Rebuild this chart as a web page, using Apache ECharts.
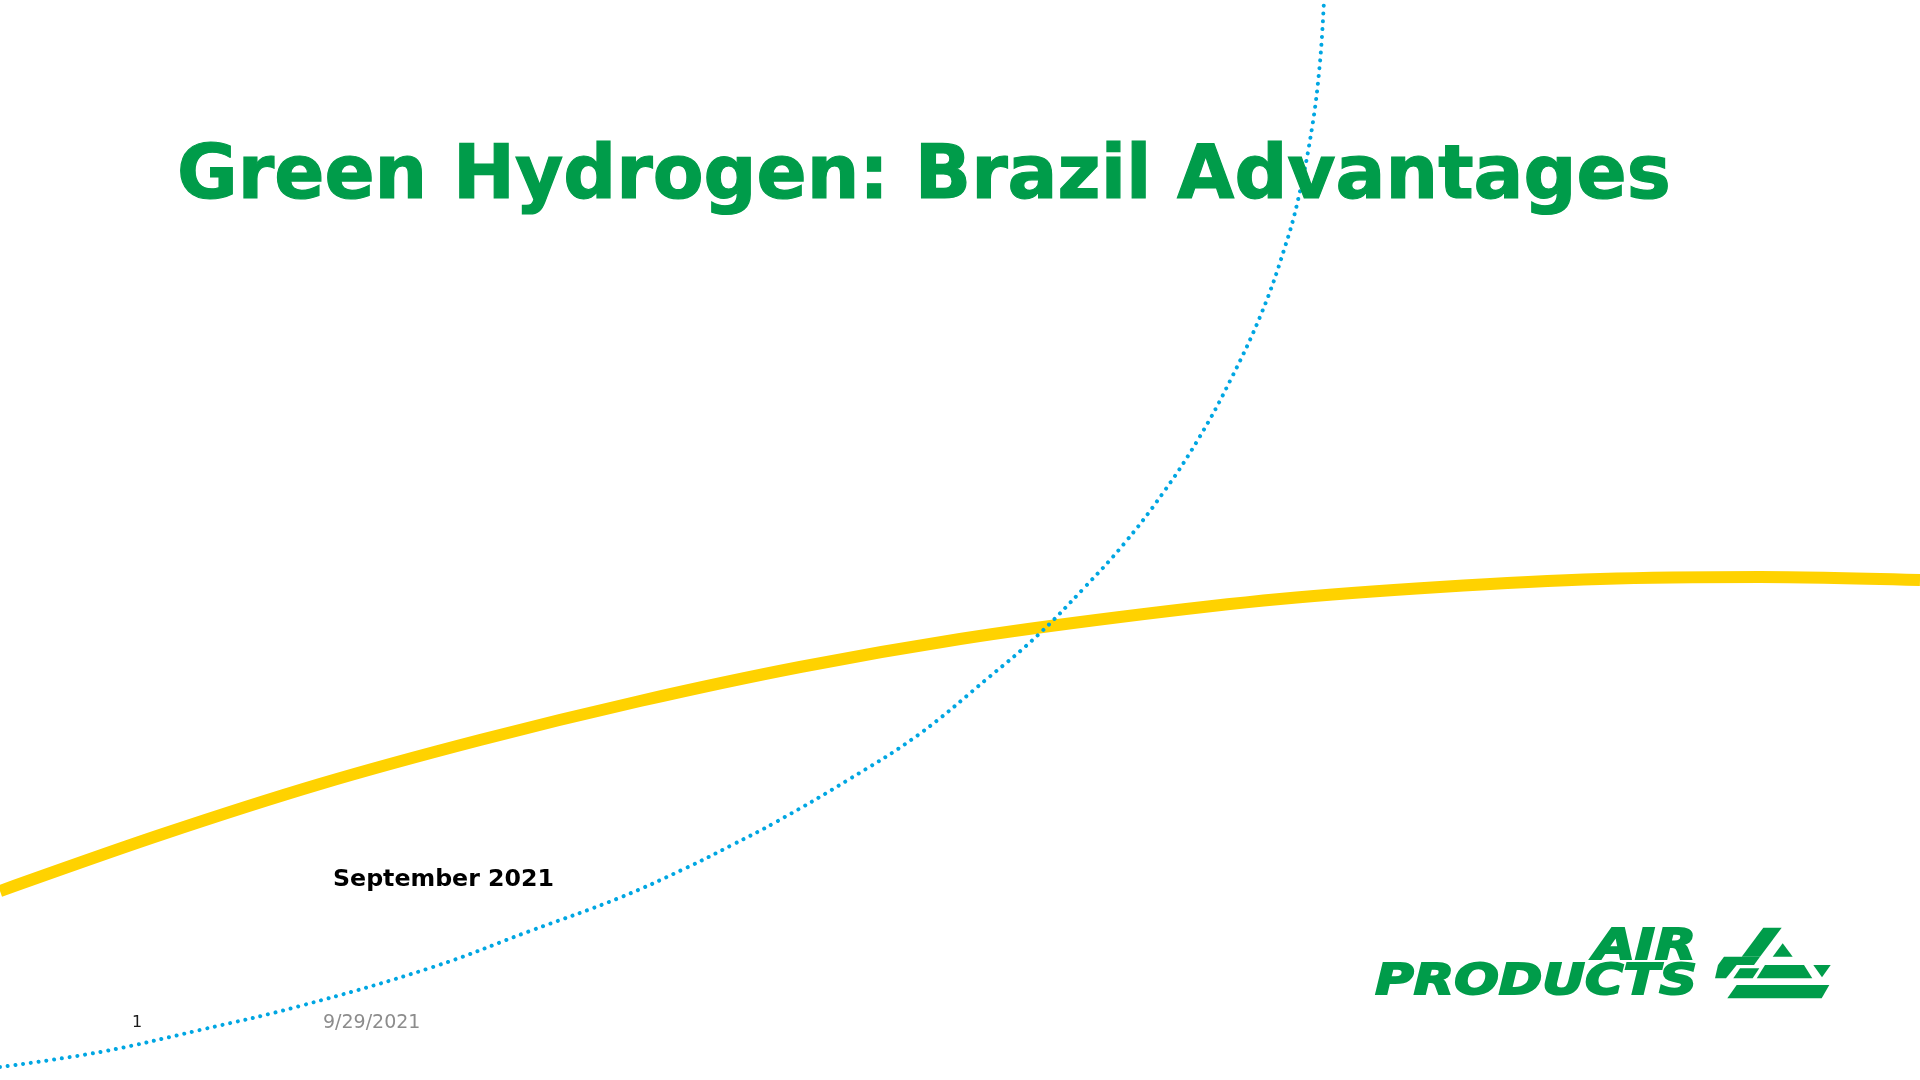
<!DOCTYPE html>
<html>
<head>
<meta charset="utf-8">
<title>Green Hydrogen: Brazil Advantages</title>
<script src="https://cdn.jsdelivr.net/npm/echarts@6/dist/echarts.min.js"></script>
<style>
  html, body { margin: 0; padding: 0; background: #fff; }
  #chart { width: 1920px; height: 1080px; }
</style>
</head>
<body>
<div id="chart"></div>
<script>
// curves, [x, y] in slide pixels (y grows downward)
const yellowArc = [
  [0, 891], [160, 835], [320, 784], [480, 740], [640, 701], [800, 667],
  [960, 639], [1120, 617], [1280, 599], [1440, 587], [1600, 579],
  [1760, 577], [1920, 580]
]
const blueArc = [
  [0, 1067], [100, 1052], [200, 1030], [300, 1006], [433, 967], [530, 931],
  [619, 898], [686, 868], [732, 845], [776, 822], [848, 780], [918, 735],
  [988, 678], [1038, 635], [1084, 588], [1123, 545], [1163, 493],
  [1199, 438], [1231, 379], [1262, 312], [1284, 250], [1298, 200],
  [1312, 128], [1320, 62], [1324, 0]
]

const titleText = 'Green Hydrogen: Brazil Advantages'
const subtitleText = 'September 2021'
const pageNumber = '1'
const dateText = '9/29/2021'

const green = '#009C4A'

// logo symbol pieces, local coords inside the logo box
const logoPieces = [
  [[63.3, 12.7], [81.7, 12.7], [60, 41.7], [41.7, 41.7]],
  [[24, 41.7], [60, 41.7], [54, 50], [18, 50]],
  [[18, 50], [36.7, 50], [26, 63.3], [15, 63.3]],
  [[40, 53.3], [59.3, 53.3], [52.7, 63.3], [33.3, 63.3]],
  [[65, 50], [104, 50], [112.3, 63.3], [56.7, 63.3]],
  [[82.7, 28.3], [92.7, 41.7], [72.7, 41.7]],
  [[113.3, 50], [130.7, 50], [122, 62.3]],
  [[36.7, 70], [129.3, 70], [121.7, 83.3], [27.3, 83.3]]
]

const chart = echarts.init(document.getElementById('chart'))

chart.setOption({
  animation: false,
  backgroundColor: '#ffffff',
  grid: { left: 0, right: 0, top: 0, bottom: 0 },
  xAxis: { type: 'value', min: 0, max: 1920, show: false },
  yAxis: { type: 'value', min: 0, max: 1080, inverse: true, show: false },
  series: [{
    type: 'line',
    data: yellowArc,
    smooth: 0.3,
    symbol: 'none',
    silent: true,
    lineStyle: { color: '#FFD200', width: 12 }
  }, {
    type: 'line',
    data: blueArc,
    smooth: 0.4,
    symbol: 'none',
    silent: true,
    lineStyle: { color: '#00A6E2', width: 4, type: [0.01, 7.8], cap: 'round' }
  }],
  graphic: [
    {
      type: 'text', x: 177, y: 179, z: 10,
      style: {
        text: titleText, fill: green, stroke: green, lineWidth: 1.2,
        font: 'bold 74px "DejaVu Sans", Verdana, sans-serif',
        textVerticalAlign: 'middle'
      }
    },
    {
      type: 'text', x: 333, y: 880, z: 10,
      style: {
        text: subtitleText, fill: '#000',
        font: 'bold 23.7px "DejaVu Sans", Verdana, sans-serif',
        textVerticalAlign: 'middle'
      }
    },
    {
      type: 'text', x: 132, y: 1023, z: 10,
      style: {
        text: pageNumber, fill: '#1a1a1a',
        font: '16px "DejaVu Sans", Verdana, sans-serif',
        textVerticalAlign: 'middle'
      }
    },
    {
      type: 'text', x: 323, y: 1023, z: 10,
      style: {
        text: dateText, fill: '#8c8c8c',
        font: '19px "DejaVu Sans", Verdana, sans-serif',
        textVerticalAlign: 'middle'
      }
    },
    {
      type: 'text', x: 1696, y: 948, z: 10, scaleX: 1.24, originX: 0,
      style: {
        text: 'AIR', fill: green, stroke: green, lineWidth: 2,
        font: 'italic bold 43px "DejaVu Sans", Verdana, sans-serif',
        textAlign: 'right', textVerticalAlign: 'middle'
      }
    },
    {
      type: 'text', x: 1697, y: 983, z: 10, scaleX: 1.22, originX: 0,
      style: {
        text: 'PRODUCTS', fill: green, stroke: green, lineWidth: 2,
        font: 'italic bold 43px "DejaVu Sans", Verdana, sans-serif',
        textAlign: 'right', textVerticalAlign: 'middle'
      }
    },
    {
      type: 'group', x: 1700, y: 915, z: 10,
      children: logoPieces.map(function (pts) {
        return { type: 'polygon', shape: { points: pts }, style: { fill: green } }
      })
    }
  ]
})
</script>
</body>
</html>
